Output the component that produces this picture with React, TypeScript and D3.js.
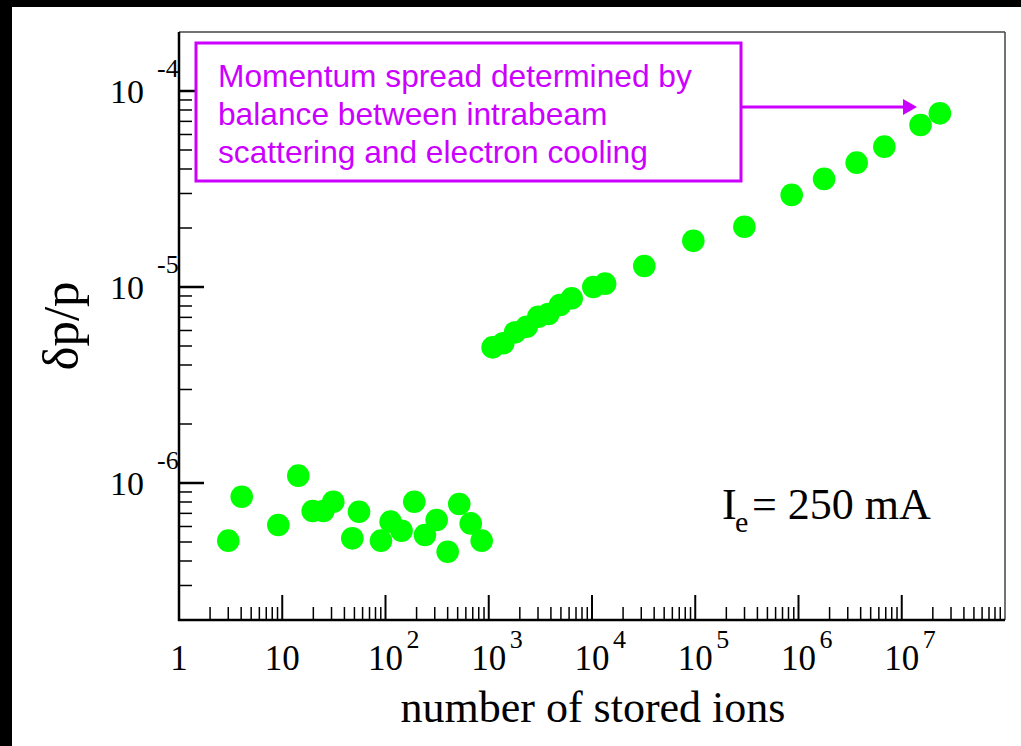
import React from 'react';
import * as d3 from 'd3';

// number of stored ions vs momentum spread
const highIons = [1.09e3, 1.38e3, 1.8e3, 2.33e3, 3.02e3, 3.78e3, 4.9e3, 6.36e3, 1.03e4, 1.34e4,
  3.21e4, 9.58e4, 2.99e5, 8.59e5, 1.77e6, 3.66e6, 6.78e6, 1.52e7, 2.34e7];
const highSpread = [4.92e-6, 5.16e-6, 5.87e-6, 6.27e-6, 7.05e-6, 7.28e-6, 8.09e-6, 8.75e-6, 1.0e-5, 1.04e-5,
  1.28e-5, 1.72e-5, 2.03e-5, 2.95e-5, 3.56e-5, 4.31e-5, 5.2e-5, 6.71e-5, 7.69e-5];

const lowIons = [3.0, 4.05, 9.16, 14.3, 19.7, 25.0, 31.2, 47.7, 55.4, 90.4,
  112, 143, 190, 241, 313, 400, 518, 669, 854];
const lowSpread = [5.08e-7, 8.51e-7, 6.11e-7, 1.09e-6, 7.2e-7, 7.2e-7, 8.03e-7, 5.22e-7, 7.14e-7, 5.08e-7,
  6.35e-7, 5.71e-7, 8.03e-7, 5.43e-7, 6.48e-7, 4.46e-7, 7.81e-7, 6.22e-7, 5.08e-7];

const xDecades = [0, 1, 2, 3, 4, 5, 6, 7];
const yDecades = [-4, -5, -6];
const noteLines = ['Momentum spread determined by', 'balance between intrabeam', 'scattering and electron cooling'];

const W = 1021;
const H = 746;
const MAGENTA = '#cc00ff';
const GREEN = '#00ff00';
const SERIF = '"Liberation Serif", "Times New Roman", serif';
const SANS = '"Liberation Sans", Arial, sans-serif';

export default function App() {
  const left = 179, right = 1005, top = 32, bottom = 620;

  const x = d3.scaleLog().domain([1, 1e8]).range([left, right]);
  const y = d3.scaleLog().domain([2e-7, 2e-4]).range([bottom, top]);

  // minor ticks 2..9 of every decade
  const xMinor: number[] = [];
  for (let d = 0; d < 8; d++) for (let k = 2; k <= 9; k++) xMinor.push(k * Math.pow(10, d));
  const yMinor: number[] = [];
  for (let d = -7; d <= -4; d++) for (let k = 2; k <= 9; k++) {
    const v = k * Math.pow(10, d);
    if (v > 2e-7 && v < 2e-4) yMinor.push(v);
  }

  const high = highIons.map((n, i) => ({ n, s: highSpread[i] }));
  const low = lowIons.map((n, i) => ({ n, s: lowSpread[i] }));

  const boxX = 196, boxY = 43, boxW = 545, boxH = 138;
  const arrowY = 107;

  return (
    <div style={{ position: 'absolute', left: 0, top: 0, width: W, height: H }}>
      <svg width={W} height={H} style={{ display: 'block' }}>
        <rect x={0} y={0} width={W} height={H} fill="#fff" />
        <rect x={0} y={0} width={W} height={7} fill="#000" />
        <rect x={0} y={0} width={12} height={H} fill="#000" />

        {/* frame */}
        <line x1={left} y1={top} x2={right} y2={top} stroke="#444" strokeWidth={1.5} />
        <line x1={right} y1={top} x2={right} y2={bottom} stroke="#444" strokeWidth={1.5} />

        {/* x ticks */}
        {xMinor.map((v, i) => (
          <line key={'xm' + i} x1={x(v)} x2={x(v)} y1={bottom} y2={bottom - 13} stroke="#000" strokeWidth={1.5} />
        ))}
        {xDecades.filter(d => d > 0).map(d => (
          <line key={'xM' + d} x1={x(Math.pow(10, d))} x2={x(Math.pow(10, d))} y1={bottom} y2={bottom - 25} stroke="#000" strokeWidth={2} />
        ))}

        {/* y ticks */}
        {yMinor.map((v, i) => (
          <line key={'ym' + i} x1={left} x2={left + 13} y1={y(v)} y2={y(v)} stroke="#000" strokeWidth={1.5} />
        ))}
        {yDecades.map(d => (
          <line key={'yM' + d} x1={left} x2={left + 25} y1={y(Math.pow(10, d))} y2={y(Math.pow(10, d))} stroke="#000" strokeWidth={2.5} />
        ))}

        <line x1={left} y1={top} x2={left} y2={bottom + 1} stroke="#000" strokeWidth={2.5} />
        <line x1={left - 1} y1={bottom} x2={right} y2={bottom} stroke="#000" strokeWidth={2.5} />

        {/* x tick labels */}
        {xDecades.map(d => {
          const px = x(Math.pow(10, d));
          if (d === 0) {
            return <text key={'xl' + d} x={px} y={670} textAnchor="middle" fontFamily={SERIF} fontSize={35}>1</text>;
          }
          return (
            <g key={'xl' + d}>
              <text x={px} y={670} textAnchor="middle" fontFamily={SERIF} fontSize={35}>10</text>
              {d > 1 && <text x={px + 21} y={648} fontFamily={SERIF} fontSize={26}>{d}</text>}
            </g>
          );
        })}

        {/* y tick labels */}
        {yDecades.map(d => {
          const py = y(Math.pow(10, d));
          return (
            <g key={'yl' + d}>
              <text x={144} y={py + 12} textAnchor="end" fontFamily={SERIF} fontSize={34}>10</text>
              <text x={157} y={py - 14} fontFamily={SERIF} fontSize={26}>{'-' + Math.abs(d)}</text>
            </g>
          );
        })}

        {/* axis titles */}
        <text x={593} y={722} textAnchor="middle" fontFamily={SERIF} fontSize={44}>number of stored ions</text>
        <text transform="translate(78,326) rotate(-90)" textAnchor="middle" fontFamily={SERIF} fontSize={51}>δp/p</text>

        {/* data */}
        {low.map((p, i) => (
          <circle key={'lo' + i} cx={x(p.n)} cy={y(p.s)} r={11.3} fill={GREEN} />
        ))}
        {high.map((p, i) => (
          <circle key={'hi' + i} cx={x(p.n)} cy={y(p.s)} r={11.3} fill={GREEN} />
        ))}

        {/* annotation */}
        <rect x={boxX} y={boxY} width={boxW} height={boxH} fill="#fff" stroke={MAGENTA} strokeWidth={3} />
        {noteLines.map((t, i) => (
          <text key={'n' + i} x={218} y={87 + i * 38} fontFamily={SANS} fontSize={31.7} fill={MAGENTA}>{t}</text>
        ))}
        <line x1={boxX + boxW} y1={arrowY} x2={903} y2={arrowY} stroke={MAGENTA} strokeWidth={3} />
        <path d={`M903,${arrowY - 8} L917,${arrowY} L903,${arrowY + 8} Z`} fill={MAGENTA} />

        {/* beam current */}
        <text x={722} y={519} fontFamily={SERIF} fontSize={44}>I</text>
        <text x={735} y={532} fontFamily={SERIF} fontSize={30}>e</text>
        <text x={752} y={519} fontFamily={SERIF} fontSize={44}>= 250 mA</text>
      </svg>
    </div>
  );
}
